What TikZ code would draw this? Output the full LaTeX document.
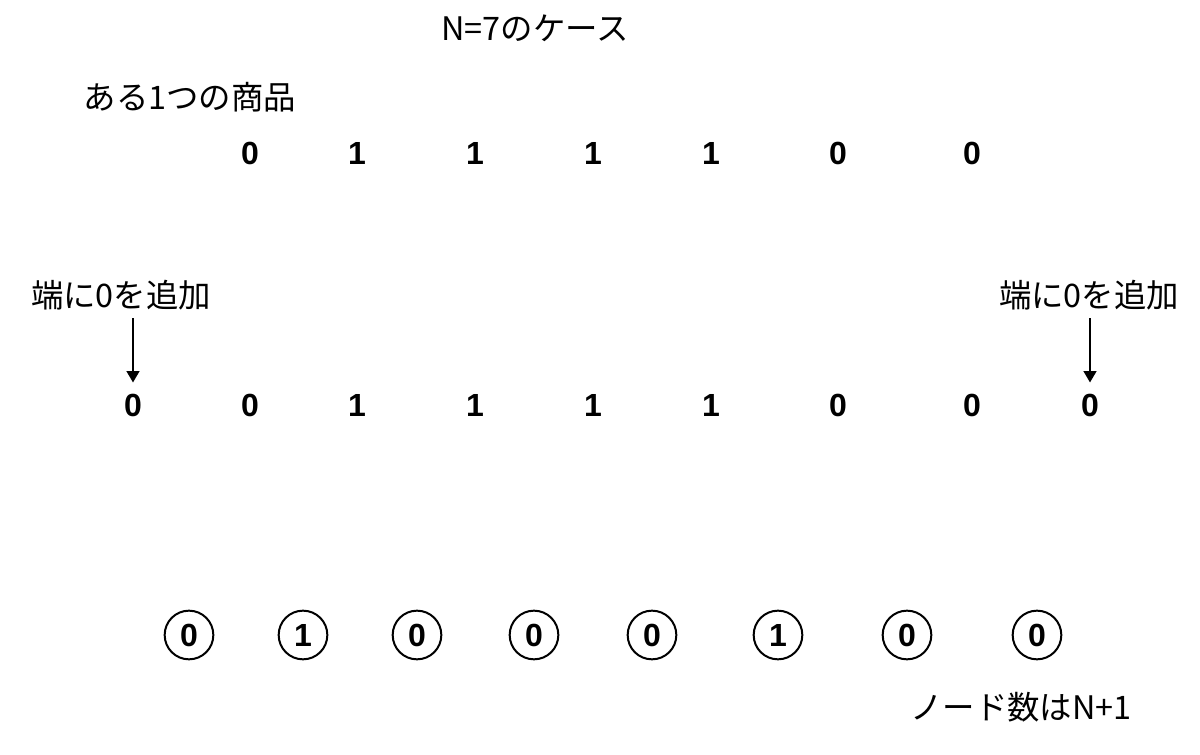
\documentclass[tikz,border=0pt]{standalone}
\usepackage{fontspec}
\setmainfont{Liberation Sans}
\newfontfamily\jp{Noto Sans CJK JP}
\usetikzlibrary{arrows.meta}

\tikzset{every picture/.style={line width=0.75pt}}
\tikzset{
  label jp/.style={font=\jp\fontsize{24.3}{29}\selectfont, inner sep=0pt},
  bit/.style={font=\bfseries\fontsize{24}{28}\selectfont, inner sep=0pt},
  bit node/.style={draw, circle, line width=1.5pt, minimum size=36.5pt, inner sep=0pt, font=\bfseries\fontsize{24}{28}\selectfont},
  add arrow/.style={line width=1.5pt, -{Triangle[length=8.5pt,width=9.5pt]}}
}

\begin{document}
\begin{tikzpicture}[x=0.75pt,y=0.75pt,yscale=-1,xscale=1]
\useasboundingbox (0,0) rectangle (1200,755);

% Text Node
\node (title) at (535,28) [label jp] {N=7のケース};
% Text Node
\node (item) at (190,97) [label jp] {ある1つの商品};

%Original row
\node (a1) at (250,153) [bit] {0};
\node (a2) at (357,153) [bit] {1};
\node (a3) at (475,153) [bit] {1};
\node (a4) at (593,153) [bit] {1};
\node (a5) at (711,153) [bit] {1};
\node (a6) at (838,153) [bit] {0};
\node (a7) at (972,153) [bit] {0};

% Text Node
\node (addL) at (121,295) [label jp] {端に0を追加};
% Text Node
\node (addR) at (1089,295) [label jp] {端に0を追加};

%Padded row
\node (b0) at (133,405) [bit] {0};
\node (b1) at (250,405) [bit] {0};
\node (b2) at (357,405) [bit] {1};
\node (b3) at (475,405) [bit] {1};
\node (b4) at (593,405) [bit] {1};
\node (b5) at (711,405) [bit] {1};
\node (b6) at (838,405) [bit] {0};
\node (b7) at (972,405) [bit] {0};
\node (b8) at (1090,405) [bit] {0};

%Arrows
\draw [add arrow] (addL.south -| b0.north) ++(0,8) -- ([yshift=-8pt]b0.north);
\draw [add arrow] (addR.south -| b8.north) ++(0,8) -- ([yshift=-8pt]b8.north);

%Node row
\node (n0) at (189,635) [bit node] {0};
\node (n1) at (303,635) [bit node] {1};
\node (n2) at (417,635) [bit node] {0};
\node (n3) at (534,635) [bit node] {0};
\node (n4) at (652,635) [bit node] {0};
\node (n5) at (778,635) [bit node] {1};
\node (n6) at (907,635) [bit node] {0};
\node (n7) at (1037,635) [bit node] {0};

% Text Node
\node (count) at (1021,707) [label jp] {ノード数はN+1};

\end{tikzpicture}
\end{document}
